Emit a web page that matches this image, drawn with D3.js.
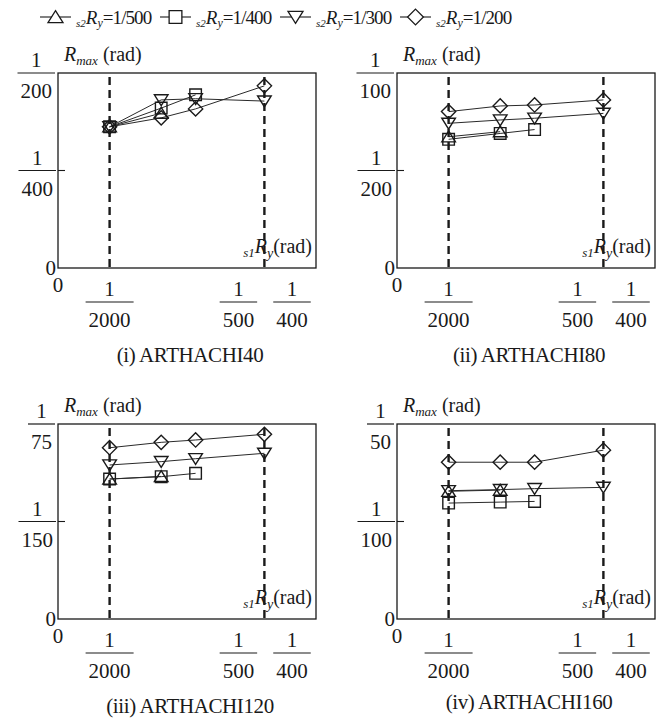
<!DOCTYPE html>
<html>
<head>
<meta charset="utf-8">
<script src="https://cdn.jsdelivr.net/npm/d3@7"></script>
<style>
  html, body { margin: 0; padding: 0; background: #fff; }
  svg { display: block; }
  text { font-family: "Liberation Serif", "Times New Roman", serif; fill: #1a1a1a; }
</style>
</head>
<body>
<svg id="chart" width="665" height="719"></svg>
<script>
// ---------------- DATA ----------------
const s1RyValues = [1/2000, 1/1000, 1/750, 1/500];          // x positions of points
const seriesLabels = ["1/500", "1/400", "1/300", "1/200"];   // s2Ry
const seriesShapes = ["triUp", "square", "triDown", "diamond"];
const panelTitles = ["(i) ARTHACHI40", "(ii) ARTHACHI80", "(iii) ARTHACHI120", "(iv) ARTHACHI160"];
const yTopDen = [200, 100, 75, 50];     // top of y axis = 1/den
const yMidDen = [400, 200, 150, 100];   // middle tick = 1/den
const xTickDen = [2000, 500, 400];       // x tick labels 1/den
const dashedAt = [1/2000, 1/500];

// Panel (i) ARTHACHI40
const p40_s500 = [0.00362, 0.00397];
const p40_s400 = [0.00362, 0.00410, 0.00444];
const p40_s300 = [0.00362, 0.00431, 0.00434, 0.00428];
const p40_s200 = [0.00362, 0.00385, 0.00408, 0.00467];
// Panel (ii) ARTHACHI80
const p80_s500 = [0.00673, 0.00699];
const p80_s400 = [0.00660, 0.00690, 0.00710];
const p80_s300 = [0.00742, 0.00759, 0.00768, 0.00793];
const p80_s200 = [0.00802, 0.00831, 0.00836, 0.00862];
// Panel (iii) ARTHACHI120
const p120_s500 = [0.00957, 0.00975];
const p120_s400 = [0.00957, 0.00973, 0.00996];
const p120_s300 = [0.01053, 0.01076, 0.01096, 0.01133];
const p120_s200 = [0.01171, 0.01208, 0.01224, 0.01263];
// Panel (iv) ARTHACHI160
const p160_s500 = [0.01310, 0.01322];
const p160_s400 = [0.01189, 0.01199, 0.01206];
const p160_s300 = [0.01316, 0.01327, 0.01337, 0.01350];
const p160_s200 = [0.01608, 0.01608, 0.01608, 0.01732];

const panelData = [
  [p40_s500, p40_s400, p40_s300, p40_s200],
  [p80_s500, p80_s400, p80_s300, p80_s200],
  [p120_s500, p120_s400, p120_s300, p120_s200],
  [p160_s500, p160_s400, p160_s300, p160_s200]
];

// ---------------- DRAW ----------------
const svg = d3.select("#chart");
const ink = "#1a1a1a";

function shapePath(shape, s) {
  switch (shape) {
    case "triUp":   return `M0,${-s*0.85}L${s},${s*0.75}L${-s},${s*0.75}Z`;
    case "triDown": return `M0,${s*0.85}L${s},${-s*0.75}L${-s},${-s*0.75}Z`;
    case "square":  return `M${-s*0.85},${-s*0.85}H${s*0.85}V${s*0.85}H${-s*0.85}Z`;
    case "diamond": return `M0,${-s*1.05}L${s*1.05},0L0,${s*1.05}L${-s*1.05},0Z`;
  }
}

// Legend
const legend = svg.append("g");
const legendX0 = 40, legendStep = 120, legendY = 17;
seriesLabels.forEach((lab, i) => {
  const gx = legendX0 + i * legendStep;
  const g = legend.append("g").attr("transform", `translate(${gx},${legendY})`);
  g.append("line").attr("x1", 0).attr("x2", 31).attr("y1", 0).attr("y2", 0)
    .attr("stroke", ink).attr("stroke-width", 1.1);
  g.append("path").attr("d", shapePath(seriesShapes[i], 7.5))
    .attr("transform", "translate(15.5,0)")
    .attr("fill", "#fff").attr("stroke", ink).attr("stroke-width", 1.3);
  const t = g.append("text").attr("x", 36).attr("y", 7).style("font-size", "19px");
  t.append("tspan").text("s2").style("font-style", "italic").style("font-size", "11px").attr("dy", "3");
  t.append("tspan").text("R").style("font-style", "italic").attr("dy", "-3");
  t.append("tspan").text("y").style("font-style", "italic").style("font-size", "12px").attr("dy", "3");
  t.append("tspan").text("=" + lab).attr("dy", "-3").attr("letter-spacing", "-0.9");
});

const boxW = 258, boxH = 195;
const lefts = [58, 397], tops = [73, 424];

function fracLabel(g, cx, barY, den, opts) {
  const fs = 21;
  const numT = g.append("text").attr("x", cx).attr("y", barY - 6)
    .attr("text-anchor", "middle").style("font-size", fs + "px").text("1");
  const denT = g.append("text").attr("x", cx).attr("y", barY + 25)
    .attr("text-anchor", "middle").style("font-size", fs + "px").text(den);
  const w = denT.node().getComputedTextLength() + 6;
  let bx = cx;
  if (opts && opts.alignRight !== undefined) {
    bx = opts.alignRight - w / 2;
    numT.attr("x", bx); denT.attr("x", bx);
  }
  g.append("line").attr("x1", bx - w / 2).attr("x2", bx + w / 2)
    .attr("y1", barY).attr("y2", barY).attr("stroke", ink).attr("stroke-width", 1.2);
}

panelData.forEach((series, p) => {
  const left = lefts[p % 2], top = tops[Math.floor(p / 2)];
  const right = left + boxW, bottom = top + boxH;
  const g = svg.append("g");

  const x = d3.scaleLinear().domain([0, 1/400]).range([left, right]);
  const y = d3.scaleLinear().domain([0, 1/yTopDen[p]]).range([bottom, top]);

  series.forEach((vals) => {
    const pts = vals.map((v, k) => [x(s1RyValues[k]), y(v)]);
    g.append("path").attr("d", d3.line()(pts))
      .attr("fill", "none").attr("stroke", "#2a2a2a").attr("stroke-width", 1);
  });
  series.forEach((vals, si) => {
    vals.forEach((v, k) => {
      g.append("path").attr("d", shapePath(seriesShapes[si], 6.8))
        .attr("transform", `translate(${x(s1RyValues[k])},${y(v)})`)
        .attr("fill", "none").attr("stroke", ink).attr("stroke-width", 1.4);
    });
  });

  dashedAt.forEach(v => {
    g.append("line").attr("x1", x(v)).attr("x2", x(v)).attr("y1", top + 4).attr("y2", bottom)
      .attr("stroke", ink).attr("stroke-width", 2.4).attr("stroke-dasharray", "8,5");
  });

  g.append("rect").attr("x", left).attr("y", top).attr("width", boxW).attr("height", boxH)
    .attr("fill", "none").attr("stroke", ink).attr("stroke-width", 1.3);

  const ym = y(1 / yMidDen[p]);
  g.append("line").attr("x1", left).attr("x2", left + 7).attr("y1", ym).attr("y2", ym)
    .attr("stroke", ink).attr("stroke-width", 1.1);

  fracLabel(g, 0, top, yTopDen[p], { alignRight: left - 3 });
  fracLabel(g, 0, ym, yMidDen[p], { alignRight: left - 2 });
  g.append("text").attr("x", left - 2).attr("y", bottom + 7).attr("text-anchor", "end")
    .style("font-size", "21px").text("0");
  g.append("text").attr("x", left).attr("y", bottom + 24).attr("text-anchor", "middle")
    .style("font-size", "21px").text("0");

  const xOffsets = [0, -26, -24];
  xTickDen.forEach((den, k) => {
    fracLabel(g, x(1 / den) + xOffsets[k], bottom + 34, den);
  });

  const yt = g.append("text").attr("x", left + 6).attr("y", top - 12).style("font-size", "20px");
  yt.append("tspan").text("R").style("font-style", "italic");
  yt.append("tspan").text("max").style("font-style", "italic").style("font-size", "13px").attr("dy", "4");
  yt.append("tspan").text(" (rad)").attr("dy", "-4");

  const xt = g.append("text").attr("x", right - 4).attr("y", bottom - 15)
    .attr("text-anchor", "end").style("font-size", "20px");
  xt.append("tspan").text("s1").style("font-style", "italic").style("font-size", "13px").attr("dy", "4");
  xt.append("tspan").text("R").style("font-style", "italic").attr("dy", "-4");
  xt.append("tspan").text("y").style("font-style", "italic").style("font-size", "14px").attr("dy", "5");
  xt.append("tspan").text("(rad)").attr("dy", "-5");

  g.append("text").attr("x", left + boxW / 2 + 3).attr("y", bottom + (p === 3 ? 90 : 94))
    .attr("text-anchor", "middle").style("font-size", "21px").attr("letter-spacing", "-0.4")
    .text(panelTitles[p]);
});
</script>
</body>
</html>
